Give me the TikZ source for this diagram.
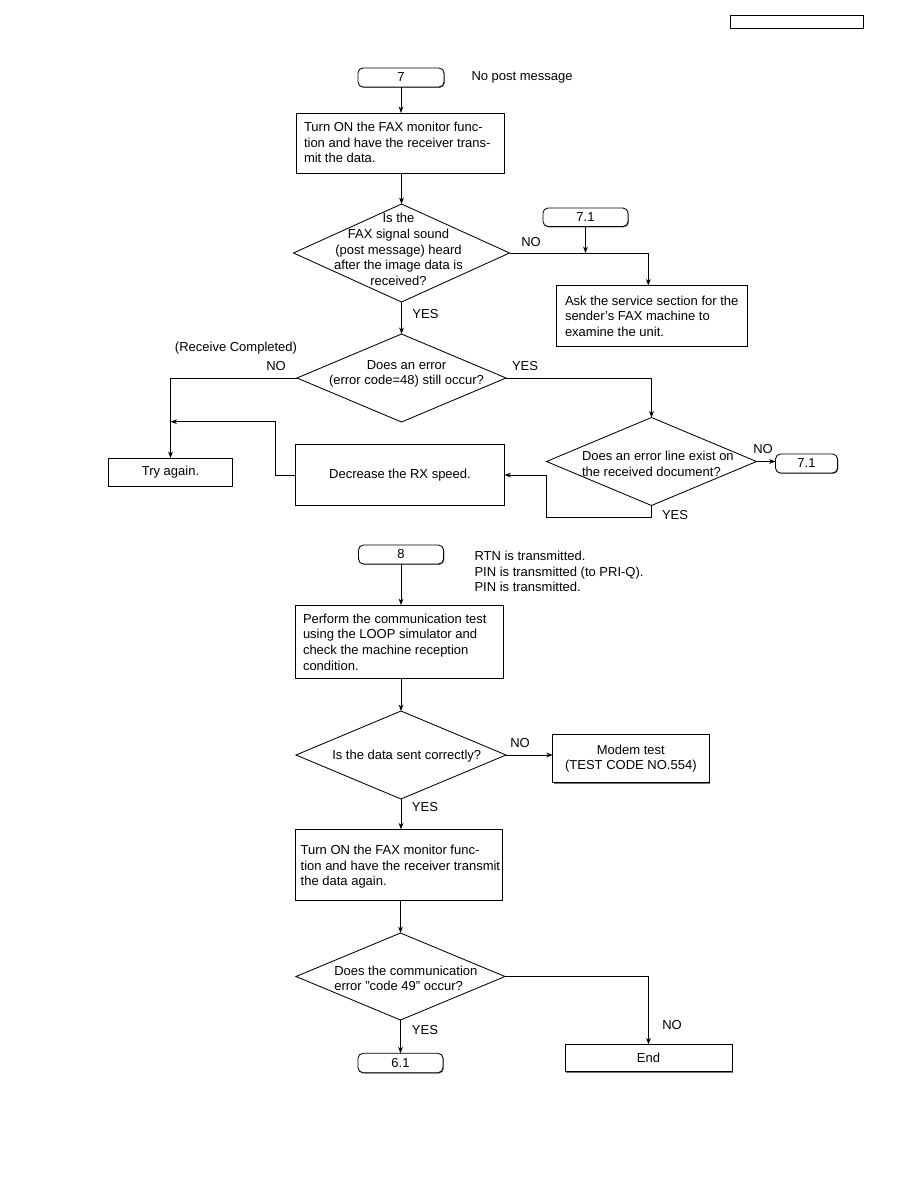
\documentclass[tikz,border=0pt]{standalone}
\usepackage{fontspec}
\setmainfont{Liberation Sans}
\usetikzlibrary{arrows.meta,shapes.geometric,shadows}
\begin{document}
\begin{tikzpicture}[x=1pt,y=-1pt,
  every node/.style={font=\fontsize{13}{15.6}\selectfont, inner sep=0pt, outer sep=0pt},
  ln/.style={line width=0.85pt},
  arr/.style={ln,-{Stealth[length=6.5pt,width=4.8pt]}},
  shad/.style={drop shadow={shadow xshift=0.9pt,shadow yshift=-0.9pt,fill=black!55,opacity=1}},
  box/.style={draw,ln,fill=white,rectangle,anchor=north west,align=center,shad},
  term/.style={draw,ln,fill=white,rectangle,rounded corners=5pt,anchor=north west,align=center,shad},
  dia/.style={draw,ln,diamond,fill=white},
  txt/.style={align=left,anchor=west},
  ctxt/.style={align=center}
]
\fill[white] (0,0) rectangle (918,1188);
\useasboundingbox (0,0) rectangle (918,1188);

% header box
\node[draw,line width=0.85pt,rectangle,anchor=north west,minimum width=133pt,minimum height=13pt] (hdr) at (730,15) {};

% ---------- block 7 ----------
\node[term,minimum width=86pt,minimum height=19pt] (t7) at (358,68) {7};
\node[txt] (npm) at (471.5,77) {No post message};

\node[box,minimum width=208pt,minimum height=60pt] (box1) at (296,113) {};
\node[txt] (box1t) at (304,142.5) {Turn ON the FAX monitor func-\\tion and have the receiver trans-\\mit the data.};

\node[dia,minimum width=216pt,minimum height=98pt] (d1) at (401.5,253) {};
\node[ctxt] (d1t) at (398.5,249.5) {Is the\\FAX signal sound\\(post message) heard\\after the image data is\\received?};

\node[term,minimum width=85pt,minimum height=18.5pt] (t71a) at (543,208) {7.1};

\node[box,minimum width=191pt,minimum height=61pt] (ask) at (556,285.5) {};
\node[txt] (askt) at (565,316) {Ask the service section for the\\sender's FAX machine to\\examine the unit.};

\node[ctxt] (rc) at (236,348) {(Receive Completed)};

\node[dia,minimum width=209pt,minimum height=88pt] (d2) at (401.5,378) {};
\node[ctxt] (d2t) at (406.5,374) {Does an error\\(error code=48) still occur?};

\node[dia,minimum width=210pt,minimum height=88pt] (d3) at (651.5,461.5) {};
\node[txt] (d3t) at (582,464) {Does an error line exist on\\the received document?};

\node[term,minimum width=62pt,minimum height=19pt] (t71b) at (775.5,454) {7.1};

\node[box,minimum width=124pt,minimum height=28pt] (try) at (108.5,458) {Try again.};
\node[box,minimum width=209pt,minimum height=61pt] (dec) at (295.5,444.5) {Decrease the RX speed.};

% labels block 7
\node (no1) at (531,242) {NO};
\node (yes1) at (425.5,314) {YES};
\node (no2) at (276,366) {NO};
\node (yes2) at (525,366) {YES};
\node (no3) at (763,449) {NO};
\node (yes3) at (675,515) {YES};

% connectors block 7
\draw[arr] (t7.south) -- (t7.south |- box1.north);
\draw[arr] (d1.north |- box1.south) -- (d1.north);
\draw[arr] (d1.south) -- (d2.north);
\coordinate (askin) at (648.3,285.5);
\draw[arr] (d1.east) -| (askin);
\draw[arr] (t71a.south) -- (t71a.south |- d1.east);
\draw[arr] (d2.west) -| (try.north);
\draw[arr] (d2.east) -| (d3.north);
\draw[arr] (d3.east) -- (d3.east -| t71b.west);
\coordinate (fb) at (170.5,421.7);
\draw[arr] (dec.west) -- ++(-20.5,0) |- (fb);
\coordinate (lp) at (546,517);
\draw[arr] (d3.south) |- (lp) |- (dec.east);

% ---------- block 8 ----------
\node[term,minimum width=85pt,minimum height=19pt] (t8) at (358.5,545) {8};
\node[txt] (rtn) at (474.5,571.7) {RTN is transmitted.\\PIN is transmitted (to PRI-Q).\\PIN is transmitted.};

\node[box,minimum width=208pt,minimum height=73pt] (perf) at (295,605) {};
\node[txt] (perft) at (303,642) {Perform the communication test\\using the LOOP simulator and\\check the machine reception\\condition.};

\node[dia,minimum width=210pt,minimum height=88pt] (d4) at (401,755) {};
\node[ctxt] (d4t) at (406.7,755.7) {Is the data sent correctly?};

\node[box,minimum width=156.3pt,minimum height=48.4pt] (modem) at (552.7,734.3) {Modem test\\(TEST CODE NO.554)};

\node[box,minimum width=207pt,minimum height=71pt] (again) at (295,829.3) {};
\node[txt] (againt) at (300.7,867) {Turn ON the FAX monitor func-\\tion and have the receiver transmit\\the data again.};

\node[dia,minimum width=209pt,minimum height=87pt] (d5) at (400.5,976.5) {};
\node[txt] (d5t) at (334.3,978.5) {Does the communication\\error "code 49" occur?};

\node[term,minimum width=85pt,minimum height=19.4pt] (t61) at (358,1053.3) {6.1};
\node[box,minimum width=167pt,minimum height=27.4pt] (endb) at (565,1044.3) {End};

% labels block 8
\node (no4) at (520,743.3) {NO};
\node (yes4) at (425,807) {YES};
\node (yes5) at (425,1030) {YES};
\node (no5) at (672,1025) {NO};

% connectors block 8
\draw[arr] (t8.south) -- (t8.south |- perf.north);
\draw[arr] (d4.north |- perf.south) -- (d4.north);
\draw[arr] (d4.east) -- (d4.east -| modem.west);
\draw[arr] (d4.south) -- (d4.south |- again.north);
\draw[arr] (d5.north |- again.south) -- (d5.north);
\draw[arr] (d5.south) -- (d5.south |- t61.north);
\draw[arr] (d5.east) -| (endb.north);
\end{tikzpicture}
\end{document}
